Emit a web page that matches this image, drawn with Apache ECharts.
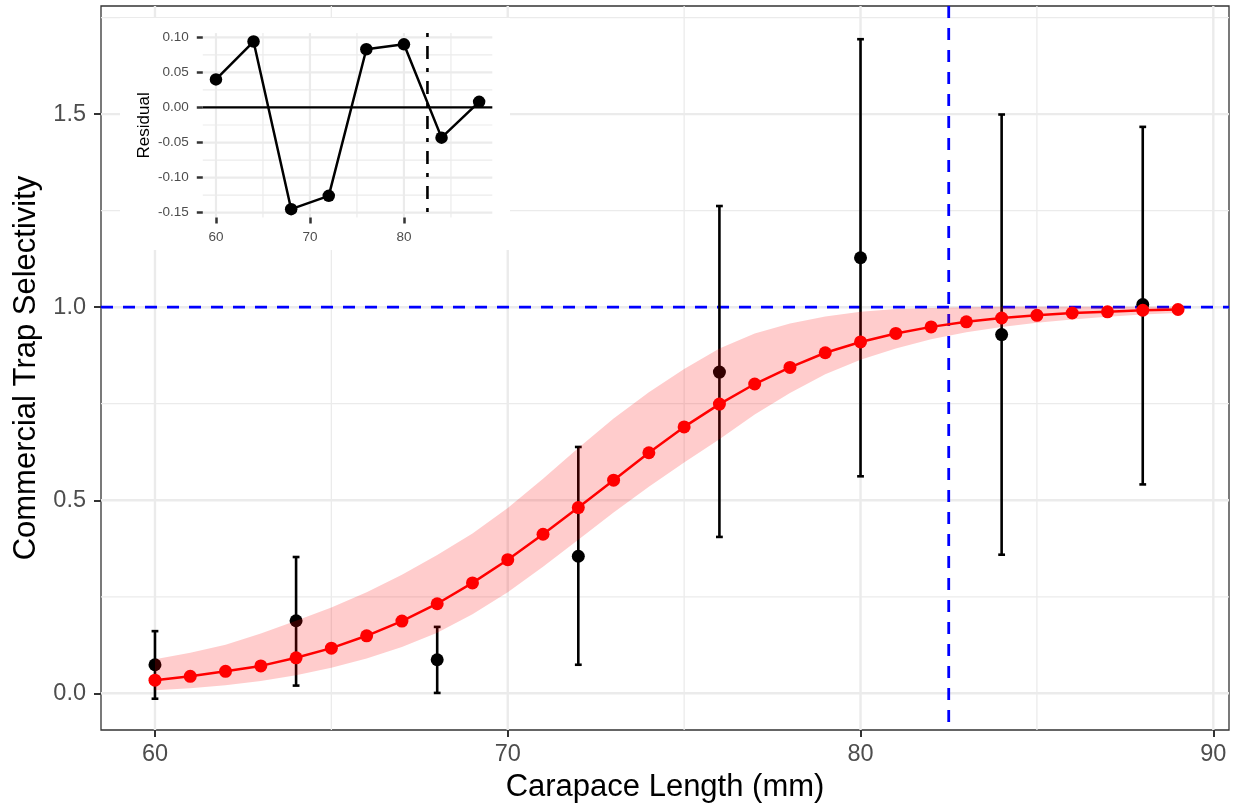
<!DOCTYPE html>
<html>
<head>
<meta charset="utf-8">
<script src="https://cdn.jsdelivr.net/npm/echarts@6/dist/echarts.min.js"></script>
<style>
  html, body { margin: 0; padding: 0; background: #fff; }
  #chart { width: 1238px; height: 809px; }
</style>
</head>
<body>
<div id="chart"></div>
<script>
// ---------- data ----------
const fitX = [60,61,62,63,64,65,66,67,68,69,70,71,72,73,74,75,76,77,78,79,80,81,82,83,84,85,86,87,88,89];
const fitY = [0.034,0.044,0.057,0.071,0.092,0.117,0.149,0.187,0.232,0.286,0.346,0.412,0.481,0.552,0.623,0.690,0.749,0.801,0.844,0.882,0.910,0.932,0.949,0.962,0.972,0.979,0.985,0.988,0.992,0.994];
const bandLo = [0.008,0.013,0.021,0.032,0.047,0.066,0.090,0.120,0.157,0.205,0.262,0.328,0.398,0.468,0.535,0.598,0.658,0.722,0.778,0.826,0.864,0.893,0.917,0.935,0.949,0.960,0.968,0.975,0.981,0.985];
const bandHi = [0.088,0.105,0.126,0.155,0.188,0.222,0.262,0.307,0.358,0.414,0.480,0.556,0.635,0.712,0.780,0.840,0.893,0.932,0.958,0.976,0.988,0.995,0.998,1.000,1.001,1.001,1.001,1.001,1.001,1.001];

const obsX  = [60,64,68,72,76,80,84,88];
const obsY  = [0.074,0.188,0.087,0.355,0.832,1.128,0.929,1.007];
const obsLo = [-0.014,0.020,0.001,0.074,0.405,0.562,0.359,0.541];
const obsHi = [0.161,0.353,0.172,0.638,1.262,1.694,1.499,1.467];

const resid = [0.040,0.094,-0.145,-0.126,0.083,0.090,-0.043,0.008];

const refY = 1.0;    // horizontal blue dashed line
const refX = 82.5;   // vertical blue dashed line / inset dot-dash line
const residZero = 0; // inset zero line

// tick / grid values
const xMajor = [60,70,80,90];
const xMinor = [65,75,85];
const yMajor = [0,0.5,1,1.5];
const yMinor = [0.25,0.75,1.25,1.75];
const ixMajor = [60,70,80];
const ixMinor = [65,75,85];
const iyMajor = [-0.15,-0.10,-0.05,0,0.05,0.10];
const iyMinor = [-0.125,-0.075,-0.025,0.025,0.075];

// ---------- helpers ----------
const FONT = 'Liberation Sans, Arial, Helvetica, sans-serif';
const GRID_COLOR = '#EBEBEB';

function gridData(xMaj, xMin, yMaj, yMin) {
  const d = [];
  xMaj.forEach(v => d.push([v, 0, 1]));
  xMin.forEach(v => d.push([v, 0, 0]));
  yMaj.forEach(v => d.push([v, 1, 1]));
  yMin.forEach(v => d.push([v, 1, 0]));
  return d;
}
// full-panel straight line (vertical if horiz==0, horizontal if horiz==1)
function panelLine(params, api, v, horiz, yRef) {
  const cs = params.coordSys;
  if (horiz) {
    const y = api.coord([fitX[0], v])[1];
    if (y < cs.y - 0.5 || y > cs.y + cs.height + 0.5) return null;
    return { x1: cs.x, y1: y, x2: cs.x + cs.width, y2: y };
  }
  const x = api.coord([v, yRef])[0];
  if (x < cs.x - 0.5 || x > cs.x + cs.width + 0.5) return null;
  return { x1: x, y1: cs.y, x2: x, y2: cs.y + cs.height };
}
function gridRender(majW, minW) {
  return function (params, api) {
    const shape = panelLine(params, api, api.value(0), api.value(1), 0);
    if (!shape) return null;
    return { type: 'line', shape: shape,
      style: { stroke: GRID_COLOR, lineWidth: api.value(2) ? majW : minW } };
  };
}

const chart = echarts.init(document.getElementById('chart'), null, { renderer: 'canvas' });

const option = {
  animation: false,
  backgroundColor: '#ffffff',
  grid: [
    { left: 101, right: 9, top: 6, bottom: 79, show: true,
      borderColor: '#333333', borderWidth: 1.3, backgroundColor: 'transparent' },
    { left: 202.8, right: 745.7, top: 33.1, bottom: 591.4, show: false }
  ],
  graphic: [
    { type: 'rect', left: 120, top: 18, z: 6,
      shape: { width: 390, height: 232 }, style: { fill: '#ffffff' } }
  ],
  xAxis: [
    { gridIndex: 0, type: 'value', min: 58.47, max: 90.445,
      axisLine: { show: false, onZero: false },
      axisTick: { show: true, customValues: xMajor, length: 7, lineStyle: { color: '#333333', width: 2 } },
      axisLabel: { customValues: xMajor, fontSize: 23.5, color: '#4D4D4D', fontFamily: FONT, margin: 13 },
      splitLine: { show: false },
      name: 'Carapace Length (mm)', nameLocation: 'middle', nameGap: 24,
      nameTextStyle: { fontSize: 31, color: '#000000', fontFamily: FONT } },
    { gridIndex: 1, type: 'value', min: 58.6, max: 89.4, z: 10,
      axisLine: { show: false, onZero: false },
      axisTick: { show: true, customValues: ixMajor, length: 6, lineStyle: { color: '#333333', width: 2.5 } },
      axisLabel: { customValues: ixMajor, fontSize: 13.5, color: '#4D4D4D', fontFamily: FONT, margin: 13 },
      splitLine: { show: false } }
  ],
  yAxis: [
    { gridIndex: 0, type: 'value', min: -0.095, max: 1.78,
      axisLine: { show: false, onZero: false },
      axisTick: { show: true, customValues: yMajor, length: 7, lineStyle: { color: '#333333', width: 2 } },
      axisLabel: { customValues: yMajor, fontSize: 23.5, color: '#4D4D4D', fontFamily: FONT, margin: 15,
        formatter: v => Number(v).toFixed(1) },
      splitLine: { show: false },
      name: 'Commercial Trap Selectivity', nameLocation: 'middle', nameGap: 58, nameRotate: 90,
      nameTextStyle: { fontSize: 31, color: '#000000', fontFamily: FONT } },
    { gridIndex: 1, type: 'value', min: -0.157, max: 0.106, z: 10,
      axisLine: { show: false, onZero: false },
      axisTick: { show: true, customValues: iyMajor, length: 6, lineStyle: { color: '#333333', width: 2.5 } },
      axisLabel: { customValues: iyMajor, fontSize: 13.5, color: '#4D4D4D', fontFamily: FONT, margin: 14,
        formatter: v => Number(v).toFixed(2) },
      splitLine: { show: false },
      name: 'Residual', nameLocation: 'middle', nameGap: 50, nameRotate: 90,
      nameTextStyle: { fontSize: 17, color: '#000000', fontFamily: FONT } }
  ],
  series: [
    // main panel gridlines
    { type: 'custom', xAxisIndex: 0, yAxisIndex: 0, z: 1, silent: true,
      data: gridData(xMajor, xMinor, yMajor, yMinor),
      renderItem: gridRender(2.4, 1.3) },
    // blue dashed reference lines
    { type: 'custom', xAxisIndex: 0, yAxisIndex: 0, z: 2, silent: true,
      data: [[refY, 1], [refX, 0]],
      renderItem: function (params, api) {
        const shape = panelLine(params, api, api.value(0), api.value(1), 0);
        if (!shape) return null;
        return { type: 'line', shape: shape,
          style: { stroke: '#0000FF', lineWidth: 2.8, lineDash: [12, 10] } };
      } },
    // error bars
    { type: 'custom', xAxisIndex: 0, yAxisIndex: 0, z: 3, silent: true,
      data: obsX.map((x, i) => [x, obsLo[i], obsHi[i]]),
      renderItem: function (params, api) {
        const p1 = api.coord([api.value(0), api.value(1)]);
        const p2 = api.coord([api.value(0), api.value(2)]);
        const hw = 3.4;
        const st = { stroke: '#000000', lineWidth: 2.6 };
        return { type: 'group', children: [
          { type: 'line', shape: { x1: p1[0], y1: p1[1], x2: p2[0], y2: p2[1] }, style: st },
          { type: 'line', shape: { x1: p1[0] - hw, y1: p1[1], x2: p1[0] + hw, y2: p1[1] }, style: st },
          { type: 'line', shape: { x1: p2[0] - hw, y1: p2[1], x2: p2[0] + hw, y2: p2[1] }, style: st }
        ] };
      } },
    // observed points
    { type: 'scatter', xAxisIndex: 0, yAxisIndex: 0, z: 3, silent: true,
      symbol: 'circle', symbolSize: 13, itemStyle: { color: '#000000', opacity: 1 },
      data: obsX.map((x, i) => [x, obsY[i]]) },
    // confidence band
    { type: 'custom', xAxisIndex: 0, yAxisIndex: 0, z: 4, silent: true,
      data: fitX.map((x, i) => [x, bandLo[i], bandHi[i]]),
      renderItem: function (params, api) {
        if (params.dataIndex !== 0) return null;
        const pts = [];
        for (let i = 0; i < fitX.length; i++) pts.push(api.coord([fitX[i], bandLo[i]]));
        for (let i = fitX.length - 1; i >= 0; i--) pts.push(api.coord([fitX[i], bandHi[i]]));
        return { type: 'polygon', shape: { points: pts, smooth: 0 }, style: { fill: 'rgba(255,0,0,0.2)' } };
      } },
    // fitted curve
    { type: 'line', xAxisIndex: 0, yAxisIndex: 0, z: 5, silent: true,
      symbol: 'circle', symbolSize: 13, showSymbol: true, showAllSymbol: true,
      lineStyle: { color: '#FF0000', width: 2.5 }, itemStyle: { color: '#FF0000', opacity: 1 },
      data: fitX.map((x, i) => [x, fitY[i]]) },

    // inset gridlines
    { type: 'custom', xAxisIndex: 1, yAxisIndex: 1, z: 8, silent: true,
      data: gridData(ixMajor, ixMinor, iyMajor, iyMinor),
      renderItem: gridRender(2.2, 1.2) },
    // inset zero line and dot-dash line
    { type: 'custom', xAxisIndex: 1, yAxisIndex: 1, z: 9, silent: true,
      data: [[residZero, 1], [refX, 0]],
      renderItem: function (params, api) {
        const horiz = api.value(1);
        const shape = panelLine(params, api, api.value(0), horiz, 0);
        if (!shape) return null;
        return { type: 'line', shape: shape,
          style: horiz ? { stroke: '#000000', lineWidth: 2.2 }
                       : { stroke: '#000000', lineWidth: 2.6, lineDash: [4, 9, 13, 9] } };
      } },
    // inset residual line
    { type: 'line', xAxisIndex: 1, yAxisIndex: 1, z: 10, silent: true,
      symbol: 'circle', symbolSize: 12.5, showAllSymbol: true,
      lineStyle: { color: '#000000', width: 2.5 }, itemStyle: { color: '#000000', opacity: 1 },
      data: obsX.map((x, i) => [x, resid[i]]) }
  ]
};
chart.setOption(option);
</script>
</body>
</html>
